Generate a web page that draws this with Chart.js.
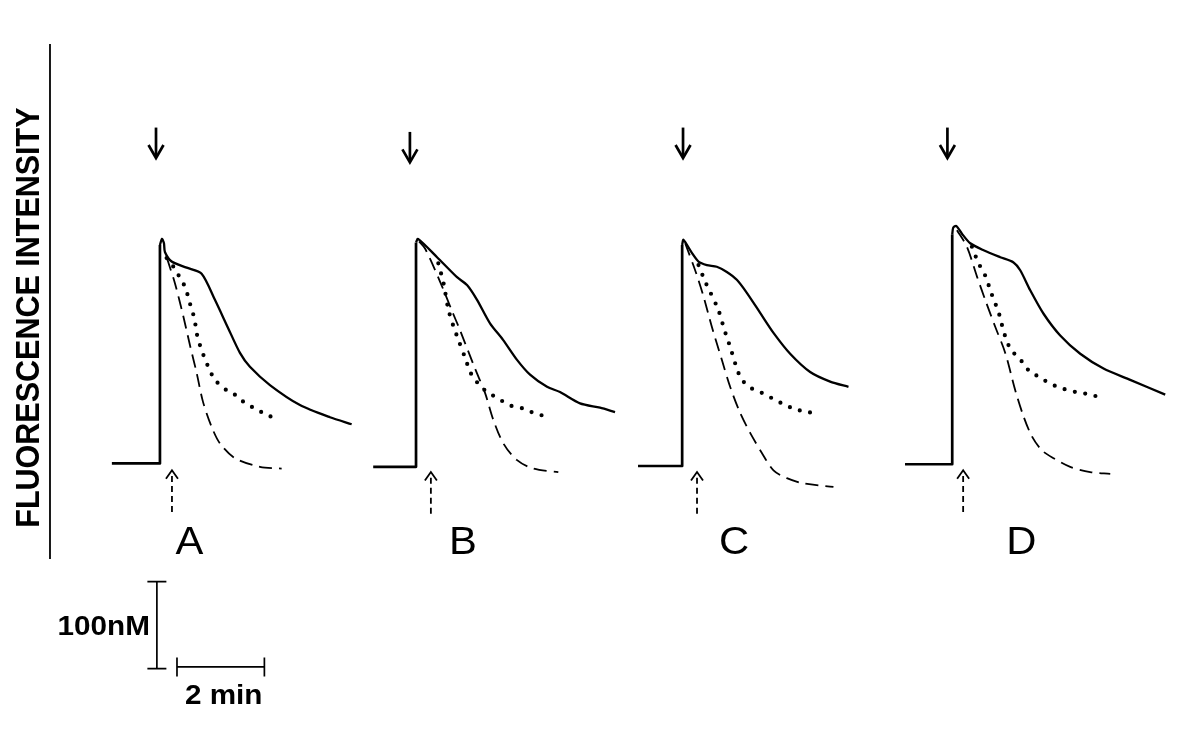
<!DOCTYPE html>
<html>
<head>
<meta charset="utf-8">
<script src="https://cdn.jsdelivr.net/npm/chart.js@4.4.1/dist/chart.umd.min.js"></script>
<style>
  html, body { margin: 0; padding: 0; background: #fff; }
  #wrap { width: 1200px; height: 752px; }
</style>
</head>
<body>
<div id="wrap"><canvas id="c" width="1200" height="752"></canvas></div>
<script>
// ---------------- DATA (time in min relative to stimulus, [Ca2+] in nM) ----------------
const panels = ['A', 'B', 'C', 'D'];
const panelStart = [3.66, 9.52, 15.61, 21.79];           // stimulus time of each panel (min)

const baselineA = [[-1.10, 3], [0, 3], [0, 254]];
const solidA  = [[0,254],[0.046,261],[0.092,256],[0.114,246],[0.268,235],[0.611,228],[0.954,221],[1.258,191],[1.556,159],[1.831,130],[2.059,114],[2.517,93],[3.204,70],[3.890,56],[4.387,48]];
const dottedA = [[0.153,239],[0.366,225],[0.458,216],[0.595,204],[0.648,193],[0.748,177],[0.801,166],[0.839,153],[0.915,139],[1.007,126],[1.106,114],[1.259,99],[1.526,87],[1.716,82],[1.906,74],[2.135,67],[2.441,59],[2.670,54]];
const dashedA = [[0.160,239],[0.343,210],[0.526,174],[0.686,139],[0.840,107],[0.984,74],[1.183,45],[1.373,26],[1.716,9],[2.288,-1],[2.785,-3]];

const baselineB = [[-0.98, -1], [0, -1], [0, 257]];
const solidB  = [[0,257],[0.046,261],[0.481,240],[0.938,217],[1.167,208],[1.396,191],[1.693,164],[1.991,145],[2.311,122],[2.609,105],[2.998,91],[3.295,85],[3.753,72],[4.211,67],[4.554,62]];
const dottedB = [[0.51,233],[0.63,210],[0.74,180],[0.86,160],[0.97,145],[1.14,122],[1.24,108],[1.37,98],[1.53,89],[1.73,82],[1.96,75],[2.19,69],[2.46,66],[2.69,61],[2.97,57]];
const dashedB = [[0.07,258],[0.206,250],[0.549,212],[0.817,179],[1.007,156],[1.350,112],[1.579,84],[1.769,53],[1.998,26],[2.304,7],[2.684,-3],[3.256,-7]];

const baselineC = [[-1.01, 0], [0, 0], [0, 254]];
const solidC  = [[0,254],[0.030,260],[0.222,245],[0.374,235],[0.565,231],[0.793,229],[1.022,223],[1.251,214],[1.480,199],[1.785,176],[2.090,153],[2.471,129],[2.929,108],[3.387,97],[3.806,91]];
const dottedC = [[0.374,231],[0.526,212],[0.641,200],[0.831,179],[0.946,160],[1.022,148],[1.098,137],[1.213,118],[1.288,107],[1.403,97],[1.595,89],[1.824,84],[2.053,78],[2.281,72],[2.547,66],[2.853,62],[3.082,61]];
const dashedC = [[0.069,256],[0.297,225],[0.488,195],[0.679,160],[0.908,122],[1.098,91],[1.327,61],[1.556,38],[1.824,15],[2.090,-5],[2.396,-14],[2.776,-20],[3.462,-24]];

const baselineD = [[-1.08, 2], [0, 2], [0, 266]];
const solidD  = [[0,266],[0.023,274],[0.092,276],[0.222,267],[0.412,256],[0.718,248],[1.098,240],[1.403,234],[1.556,225],[1.785,202],[2.090,175],[2.471,150],[2.929,129],[3.462,112],[4.073,99],[4.874,82]];
const dottedD = [[0.450,252],[0.602,233],[0.716,223],[0.794,214],[0.870,202],[0.984,187],[1.060,177],[1.138,162],[1.213,149],[1.327,135],[1.481,126],[1.632,118],[1.747,110],[1.899,105],[2.090,99],[2.319,93],[2.511,89],[2.700,87],[2.891,84],[3.083,83],[3.311,80]];
const dashedD = [[0.108,271],[0.336,252],[0.565,218],[0.755,191],[0.984,160],[1.213,130],[1.442,87],[1.632,57],[1.824,34],[2.053,18],[2.319,9],[2.700,-1],[3.158,-7],[3.616,-9]];

// markers (relative min / nM)
const addArrowT   = [-0.09, -0.14, 0.02, -0.11];   // solid down arrows (agonist)
const addArrowTop = [389, 384, 389, 389];
const addArrowTip = [354, 349, 354, 354];
const washArrowT  = [0.275, 0.34, 0.34, 0.25];      // dashed up arrows
const washArrowTip = [-5, -7, -7, -5];
const washArrowEnd = [-53, -55, -55, -53];
const labelT = [0.675, 1.075, 1.19, 1.58];
const labelY = -101;

// calibration bars
const barNM = 100, barMin = 2;
const barVT = 3.59, barVBottom = -233;     // vertical (nM) bar
const barHT = 4.05, barHY = -231;          // horizontal (time) bar
const axisT = 1.144, axisTop = 485, axisBottom = -107;
const axisTitle = 'FLUORESCENCE INTENSITY';

// ---------------- LAYOUT ----------------
const W = 1200, H = 752, PX_PER_MIN = 43.7, PX_PER_NM = 0.87, ZERO_PX = 466;

const series = {
  A: [baselineA, solidA, dottedA, dashedA],
  B: [baselineB, solidB, dottedB, dashedB],
  C: [baselineC, solidC, dottedC, dashedC],
  D: [baselineD, solidD, dottedD, dashedD]
};

const styles = [
  { borderWidth: 2.7, tension: 0, borderDash: [] },
  { borderWidth: 2.3, tension: 0.25, borderDash: [] },
  { borderWidth: 4.2, tension: 0.3, borderDash: [0, 10.5], borderCapStyle: 'round' },
  { borderWidth: 1.8, tension: 0.3, borderDash: [13, 7] }
];

const datasets = [];
panels.forEach((p, i) => {
  series[p].forEach((arr, k) => {
    datasets.push(Object.assign({
      label: p + k,
      data: arr.map(([t, c]) => ({ x: panelStart[i] + t, y: c })),
      borderColor: '#000',
      pointRadius: 0,
      fill: false,
      clip: false,
      borderJoinStyle: 'round'
    }, styles[k]));
  });
});

function stretchedText(ctx, txt, x, y, font, align) {
  ctx.save();
  ctx.translate(x, y);
  ctx.scale(1.1, 1);
  ctx.font = font;
  ctx.textAlign = align;
  ctx.textBaseline = 'alphabetic';
  ctx.fillStyle = '#000';
  ctx.fillText(txt, 0, 0);
  ctx.restore();
}

const decor = {
  id: 'decor',
  beforeDraw(chart) {
    const ctx = chart.ctx;
    ctx.save();
    ctx.fillStyle = '#fff';
    ctx.fillRect(0, 0, chart.width, chart.height);
    ctx.restore();
  },
  afterDatasetsDraw(chart) {
    const ctx = chart.ctx, xs = chart.scales.x, ys = chart.scales.y;
    const X = v => xs.getPixelForValue(v), Y = v => ys.getPixelForValue(v);
    ctx.save();
    ctx.strokeStyle = '#000';
    ctx.lineCap = 'butt';

    // y axis line
    ctx.lineWidth = 1.8;
    ctx.beginPath();
    ctx.moveTo(X(axisT), Y(axisTop));
    ctx.lineTo(X(axisT), Y(axisBottom));
    ctx.stroke();

    // axis title
    ctx.save();
    ctx.translate(X(axisT) - 11, (Y(axisTop) + Y(axisBottom)) / 2 + 16);
    ctx.scale(1.1, 1);
    ctx.rotate(-Math.PI / 2);
    ctx.font = 'bold 30.5px "Liberation Sans", Arial, sans-serif';
    ctx.textAlign = 'center';
    ctx.textBaseline = 'alphabetic';
    ctx.fillStyle = '#000';
    ctx.fillText(axisTitle, 0, 0);
    ctx.restore();

    panels.forEach((p, i) => {
      // solid down arrow
      const ax = X(panelStart[i] + addArrowT[i]);
      const top = Y(addArrowTop[i]), tip = Y(addArrowTip[i]);
      ctx.setLineDash([]);
      ctx.lineWidth = 2.7;
      ctx.beginPath();
      ctx.moveTo(ax, top); ctx.lineTo(ax, tip - 2);
      ctx.stroke();
      ctx.lineJoin = 'miter';
      ctx.beginPath();
      ctx.moveTo(ax - 7.5, tip - 13); ctx.lineTo(ax, tip); ctx.lineTo(ax + 7.5, tip - 13);
      ctx.stroke();

      // dashed up arrow
      const wx = X(panelStart[i] + washArrowT[i]);
      const wt = Y(washArrowTip[i]), we = Y(washArrowEnd[i]);
      ctx.lineWidth = 1.8;
      ctx.setLineDash([6, 4]);
      ctx.beginPath();
      ctx.moveTo(wx, we); ctx.lineTo(wx, wt + 2);
      ctx.stroke();
      ctx.setLineDash([]);
      ctx.beginPath();
      ctx.moveTo(wx - 6, wt + 8.5); ctx.lineTo(wx, wt); ctx.lineTo(wx + 6, wt + 8.5);
      ctx.stroke();

      // panel letter
      stretchedText(ctx, p, X(panelStart[i] + labelT[i]), Y(labelY),
        '38px "Liberation Sans", Arial, sans-serif', 'center');
    });

    // calibration bars
    ctx.setLineDash([]);
    ctx.lineWidth = 1.7;
    const vx = X(barVT), vb = Y(barVBottom), vt = Y(barVBottom + barNM);
    ctx.beginPath();
    ctx.moveTo(vx, vt); ctx.lineTo(vx, vb);
    ctx.moveTo(vx - 9.5, vt); ctx.lineTo(vx + 9.5, vt);
    ctx.moveTo(vx - 9.5, vb); ctx.lineTo(vx + 9.5, vb);
    ctx.stroke();
    const h0 = X(barHT), h1 = X(barHT + barMin), hy = Y(barHY);
    ctx.beginPath();
    ctx.moveTo(h0, hy); ctx.lineTo(h1, hy);
    ctx.moveTo(h0, hy - 9.5); ctx.lineTo(h0, hy + 9.5);
    ctx.moveTo(h1, hy - 9.5); ctx.lineTo(h1, hy + 9.5);
    ctx.stroke();

    stretchedText(ctx, barNM + 'nM', vx - 7, (vt + vb) / 2 + 9.5,
      'bold 27px "Liberation Sans", Arial, sans-serif', 'right');
    stretchedText(ctx, barMin + ' min', (h0 + h1) / 2 + 3, hy + 37,
      'bold 27px "Liberation Sans", Arial, sans-serif', 'center');

    ctx.restore();
  }
};

new Chart(document.getElementById('c'), {
  type: 'line',
  data: { datasets },
  options: {
    responsive: false,
    animation: false,
    devicePixelRatio: 1,
    layout: { padding: 0 },
    parsing: true,
    plugins: { legend: { display: false }, tooltip: { enabled: false } },
    scales: {
      x: { type: 'linear', display: false, min: 0, max: W / PX_PER_MIN },
      y: { type: 'linear', display: false, min: -(H - ZERO_PX) / PX_PER_NM, max: ZERO_PX / PX_PER_NM }
    }
  },
  plugins: [decor]
});
</script>
</body>
</html>
